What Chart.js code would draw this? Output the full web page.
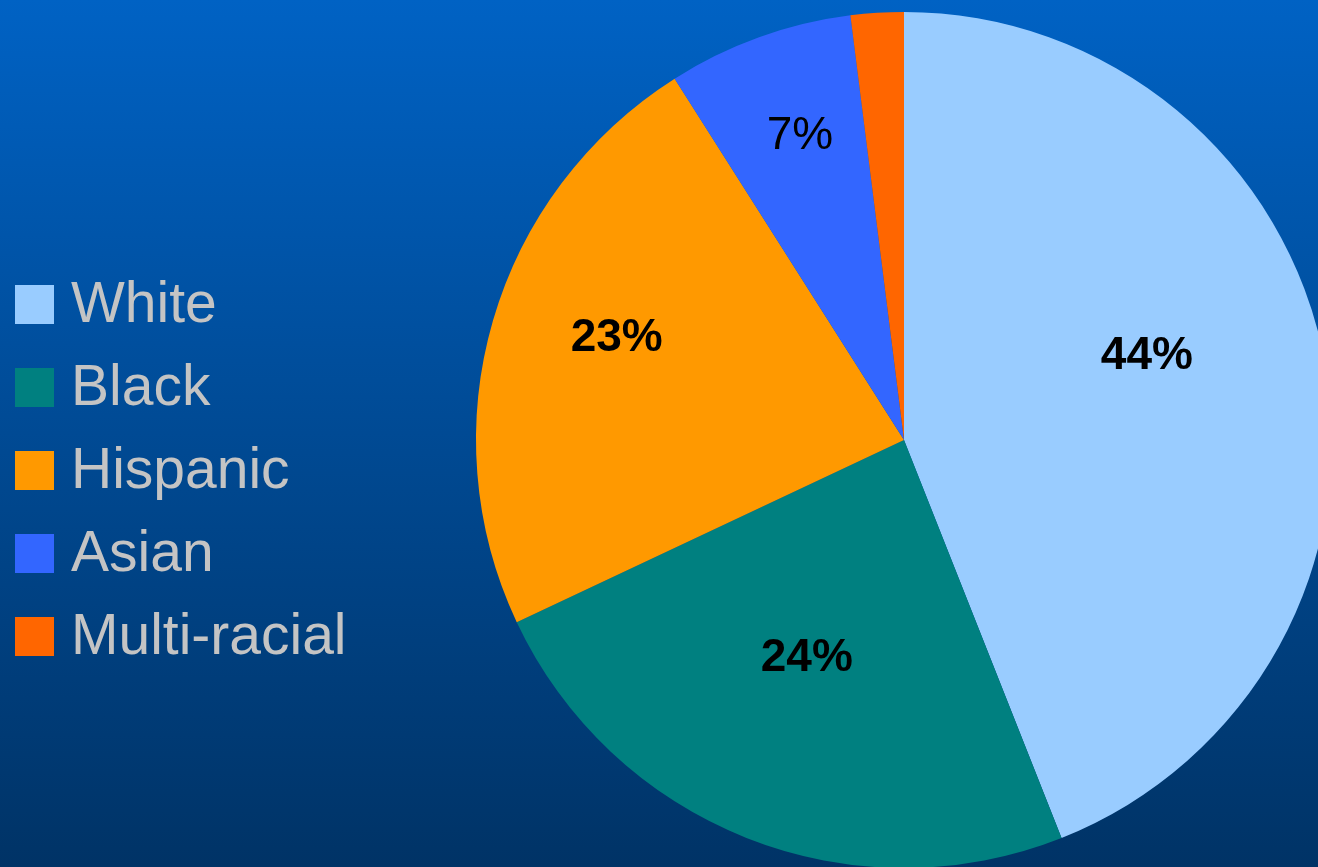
<!DOCTYPE html>
<html>
<head>
<meta charset="utf-8">
<script src="https://cdn.jsdelivr.net/npm/chart.js@4"></script>
<style>
  html, body {
    margin: 0;
    padding: 0;
    width: 1318px;
    height: 867px;
    overflow: hidden;
    background: linear-gradient(to bottom, #0062c4 0%, #004a94 50%, #003366 100%);
    font-family: "Liberation Sans", Arial, sans-serif;
  }
  #wrap {
    position: absolute;
    left: 0;
    top: 0;
    width: 1318px;
    height: 867px;
  }
  #legenda {
    position: absolute;
    left: 15px;
    top: 285px;
  }
  .item {
    position: absolute;
    left: 0;
    height: 39px;
    white-space: nowrap;
  }
  .caixa {
    position: absolute;
    left: 0;
    top: 0;
    width: 39px;
    height: 39px;
  }
  .rotulo {
    position: absolute;
    left: 56px;
    top: -2px;
    line-height: 39px;
    font-size: 57px;
    color: #c4c4c4;
  }
</style>
</head>
<body>
<div id="wrap"><canvas id="graficoPizza"></canvas></div>
<div id="legenda"></div>
<script>
const grupos = ["White", "Black", "Hispanic", "Asian", "Multi-racial"];
const percentuais = [44, 24, 23, 7, 2];
const cores = ["#99ccff", "#008080", "#ff9900", "#3366ff", "#ff6600"];

// ajuste manual dos rótulos: [desvio do ângulo em graus, fração do raio, negrito]
const ajusteRotulos = [
  [-9.0, 0.603, true],
  [2.8, 0.55, true],
  [3.95, 0.715, true],
  [1.1, 0.758, false],
  null
];

const legenda = document.getElementById("legenda");
grupos.forEach((nome, i) => {
  const item = document.createElement("div");
  item.className = "item";
  item.style.top = (i * 83) + "px";
  item.innerHTML = '<div class="caixa" style="background:' + cores[i] + '"></div>' +
    '<span class="rotulo">' + nome + '</span>';
  legenda.appendChild(item);
});

const rotulosPizza = {
  id: "rotulosPizza",
  afterDatasetsDraw(chart) {
    const ctx = chart.ctx;
    const meta = chart.getDatasetMeta(0);
    ctx.save();
    ctx.fillStyle = "#000000";
    ctx.textAlign = "center";
    ctx.textBaseline = "alphabetic";
    meta.data.forEach((arco, i) => {
      const ajuste = ajusteRotulos[i];
      if (!ajuste) return;
      const [desvio, fracao, negrito] = ajuste;
      const tamanho = 46;
      const meio = (arco.startAngle + arco.endAngle) / 2 + desvio * Math.PI / 180;
      const r = arco.outerRadius * fracao;
      const x = arco.x + Math.cos(meio) * r;
      const y = arco.y + Math.sin(meio) * r;
      ctx.font = (negrito ? "bold " : "") + tamanho + "px 'Liberation Sans', Arial, sans-serif";
      ctx.fillText(percentuais[i] + "%", x, y + tamanho * 0.358);
    });
    ctx.restore();
  }
};

new Chart(document.getElementById("graficoPizza"), {
  type: "pie",
  data: {
    labels: grupos,
    datasets: [{
      data: percentuais,
      backgroundColor: cores,
      borderWidth: 0,
      radius: 428,
      clip: false
    }]
  },
  options: {
    responsive: true,
    maintainAspectRatio: false,
    animation: false,
    layout: { padding: { left: 490, right: 0, top: 13, bottom: 0 } },
    plugins: {
      legend: { display: false },
      tooltip: { enabled: false }
    }
  },
  plugins: [rotulosPizza]
});
</script>
</body>
</html>
